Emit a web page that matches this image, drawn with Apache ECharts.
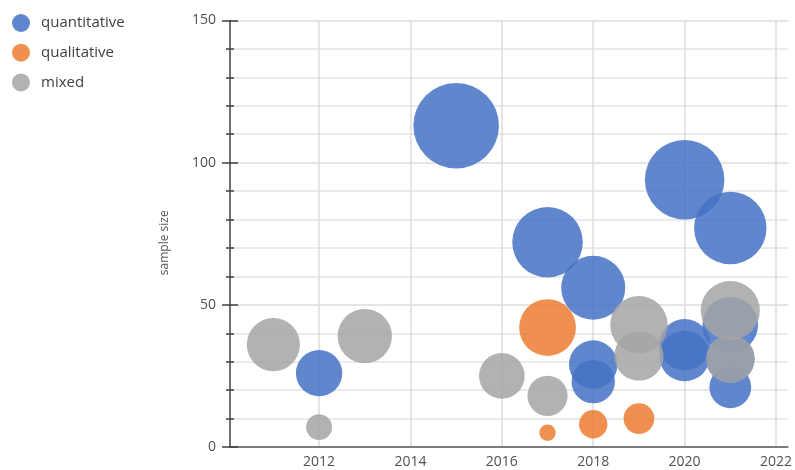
<!DOCTYPE html>
<html><head><meta charset="utf-8">
<script src="https://cdn.jsdelivr.net/npm/echarts@6/dist/echarts.min.js"></script>
<style>html,body{margin:0;padding:0;background:#fff}#c{width:795px;height:470px}</style>
</head><body><div id="c"></div>
<script>
const seriesNames = ['quantitative', 'qualitative', 'mixed'];
const seriesColors = ['#4472C4', '#ED7D31', '#A5A5A5'];

const quantYear   = [2012, 2015, 2017, 2018, 2018, 2018, 2020, 2020, 2020, 2021, 2021, 2021, 2021];
const quantSample = [26, 113, 72, 56, 29, 23, 94, 36, 32, 77, 43, 31, 21];
const quantSize   = [32, 109, 74, 61, 35, 28, 94, 39, 38, 78, 46, 35, 26];

const qualYear   = [2017, 2017, 2018, 2019];
const qualSample = [42, 5, 8, 10];
const qualSize   = [48, 4, 12, 14];

const mixedYear   = [2011, 2012, 2013, 2016, 2017, 2019, 2019, 2021, 2021];
const mixedSample = [36, 7, 39, 25, 18, 43, 32, 48, 31];
const mixedSize   = [42, 10, 44, 31, 24, 49, 36, 52, 35];

const xTickLabels = [2012, 2014, 2016, 2018, 2020, 2022];
const yTickLabels = [0, 50, 100, 150];

const FONT = 'Open Sans';
const zip = (xs, ys, ss) => xs.map((x, i) => [x, ys[i], ss[i]]);
const sizeFn = v => 8.2 * Math.sqrt(v[2]);

function bubble(name, color, data, extra) {
  return Object.assign({
    name, type: 'scatter', data, symbolSize: sizeFn, z: 2,
    itemStyle: { color, opacity: 0.85 },
    emphasis: { disabled: true }
  }, extra || {});
}

const chart = echarts.init(document.getElementById('c'), null, { renderer: 'canvas' });
chart.setOption({
  animation: false,
  backgroundColor: '#ffffff',
  textStyle: { fontFamily: FONT },
  legend: {
    orient: 'vertical', left: 7, top: 9, itemWidth: 18, itemHeight: 18, itemGap: 11.7,
    icon: 'circle', data: seriesNames,
    textStyle: { fontFamily: FONT, fontSize: 15, color: '#404040', padding: [0, 0, 0, 6] }
  },
  grid: { left: 230, right: 5, top: 20.5, bottom: 23, containLabel: false },
  xAxis: {
    type: 'value', min: 2010.05, max: 2022.26, splitNumber: 6,
    axisLine: { show: true, onZero: false, lineStyle: { color: '#595959', width: 1.5 } },
    axisTick: { show: false },
    splitLine: { show: false },
    axisLabel: {
      fontFamily: FONT, fontSize: 14, color: '#505050', margin: 8,
      formatter: v => xTickLabels.indexOf(Math.round(v * 1000) / 1000) >= 0 ? String(v) : '',
      showMinLabel: true, showMaxLabel: true
    }
  },
  yAxis: [{
    type: 'value', min: 0, max: 150, interval: 50, position: 'left',
    name: 'sample size', nameLocation: 'middle', nameGap: 59, nameRotate: 90,
    nameTextStyle: { fontFamily: FONT, fontSize: 12, color: '#595959', padding: [0, 18, 0, 0] },
    axisLine: { show: true, lineStyle: { color: '#404040', width: 1.5 } },
    axisTick: { show: true, length: 8, inside: false, lineStyle: { color: '#404040', width: 1.5 } },
    minorTick: { show: true, splitNumber: 5, length: 4, lineStyle: { color: '#404040', width: 1.5 } },
    splitLine: { show: true, lineStyle: { color: '#dcdcdc', width: 1.5 } },
    minorSplitLine: { show: true, lineStyle: { color: '#e3e3e3', width: 1.5 } },
    axisLabel: {
      fontFamily: FONT, fontSize: 14, color: '#505050', margin: 14,
      formatter: v => yTickLabels.indexOf(v) >= 0 ? String(v) : ''
    }
  }, {
    type: 'value', min: 0, max: 150, interval: 50, position: 'left', offset: 0,
    axisLine: { show: false },
    axisTick: { show: true, length: 8, inside: true, lineStyle: { color: '#404040', width: 1.5 } },
    minorTick: { show: true, splitNumber: 5, length: 4, lineStyle: { color: '#404040', width: 1.5 } },
    splitLine: { show: false },
    axisLabel: { show: false }
  }],
  series: [
    bubble(seriesNames[0], seriesColors[0], zip(quantYear, quantSample, quantSize), {
      markLine: {
        silent: true, symbol: ['none', 'none'], z: 0, animation: false,
        label: { show: false },
        lineStyle: { color: '#dcdcdc', width: 1.5, type: 'solid' },
        emphasis: { disabled: true },
        data: xTickLabels.map(v => ({ xAxis: v }))
      }
    }),
    bubble(seriesNames[1], seriesColors[1], zip(qualYear, qualSample, qualSize)),
    bubble(seriesNames[2], seriesColors[2], zip(mixedYear, mixedSample, mixedSize))
  ]
});
</script>
</body></html>
